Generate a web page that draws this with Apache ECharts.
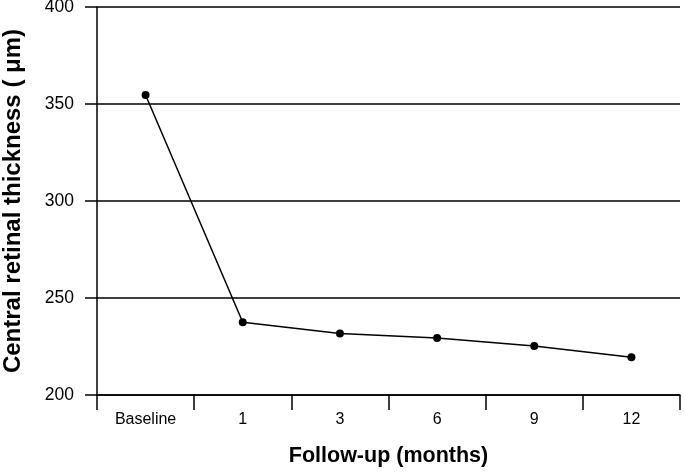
<!DOCTYPE html>
<html><head><meta charset="utf-8">
<script src="https://cdn.jsdelivr.net/npm/echarts@6/dist/echarts.min.js"></script>
<style>html,body{margin:0;padding:0;background:#fff}#c{width:685px;height:474px}</style>
</head><body><div id="c"></div>
<script>
var categories = ["Baseline", "1", "3", "6", "9", "12"];
var crtValues = [354.6, 237.5, 231.7, 229.4, 225.3, 219.4];
var yTicks = [200, 250, 300, 350, 400];

var chart = echarts.init(document.getElementById('c'), null, {renderer: 'canvas'});
var font = '"Liberation Sans", Arial, sans-serif';
chart.setOption({
  animation: false,
  grid: {left: 97, top: 7, right: 5, bottom: 79, containLabel: false, outerBoundsMode: 'none'},
  xAxis: {
    type: 'category',
    data: categories,
    boundaryGap: true,
    axisLine: {lineStyle: {color: '#000', width: 1.5}},
    axisTick: {show: true, inside: false, length: 15, lineStyle: {color: '#000', width: 1.5}},
    axisLabel: {color: '#000', fontSize: 16, fontFamily: font, margin: 17},
    name: 'Follow-up (months)',
    nameLocation: 'middle',
    nameGap: 50,
    nameTextStyle: {color: '#000', fontSize: 21.5, fontWeight: 'bold', fontFamily: font},
    splitLine: {show: false}
  },
  yAxis: {
    type: 'value',
    min: yTicks[0],
    max: yTicks[yTicks.length - 1],
    interval: 50,
    axisLine: {show: true, lineStyle: {color: '#000', width: 1.5}},
    axisTick: {show: true, length: 12, lineStyle: {color: '#000', width: 1.5}},
    axisLabel: {color: '#000', fontSize: 17.5, fontFamily: font, margin: 23},
    splitLine: {show: true, lineStyle: {color: '#000', width: 1.5}},
    name: 'Central retinal thickness ( μm)',
    nameLocation: 'middle',
    nameGap: 72,
    nameTextStyle: {color: '#000', fontSize: 24, fontWeight: 'bold', fontFamily: font}
  },
  series: [{
    type: 'line',
    data: crtValues,
    symbol: 'circle',
    symbolSize: 8,
    lineStyle: {color: '#000', width: 1.5},
    itemStyle: {color: '#000'}
  }]
});
</script></body></html>
